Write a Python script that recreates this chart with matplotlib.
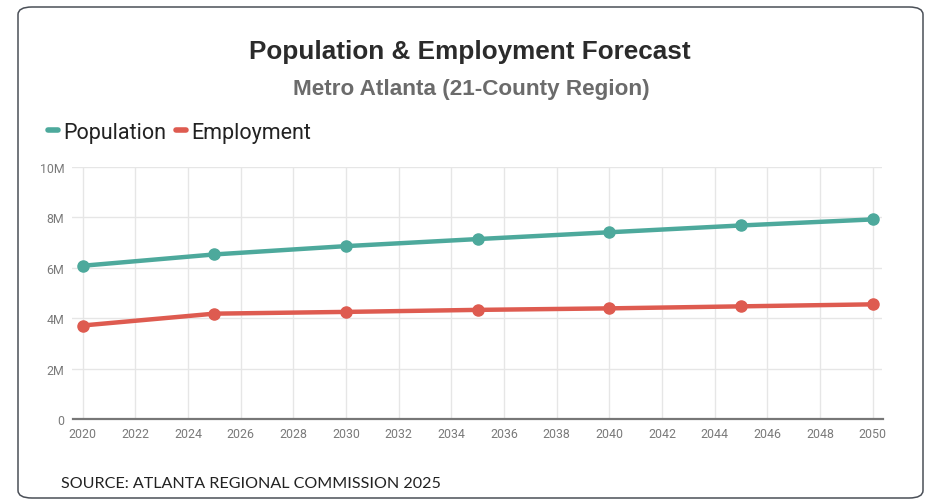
import matplotlib.pyplot as plt
from matplotlib.patches import FancyBboxPatch
from matplotlib.ticker import FuncFormatter

years = [2020, 2025, 2030, 2035, 2040, 2045, 2050]
population = [6.08, 6.53, 6.86, 7.14, 7.41, 7.68, 7.92]  # millions
employment = [3.71, 4.18, 4.25, 4.33, 4.39, 4.47, 4.55]  # millions

teal = '#4DA99C'
red = '#DE5B50'

fig = plt.figure(figsize=(9.28, 5.02), dpi=100, facecolor='white')

# rounded card border
card = FancyBboxPatch((18 / 928, 3 / 502), 905 / 928, 491 / 502,
                      boxstyle='round,pad=0,rounding_size=0.015',
                      transform=fig.transFigure, facecolor='none',
                      edgecolor='#4a4f57', linewidth=1.1, zorder=5)
fig.patches.append(card)

ax = fig.add_axes([72.5 / 928, 82 / 502, 810 / 928, 252 / 502])
ax.set_facecolor('none')

ax.plot(years, population, '-o', color=teal, lw=3.2, markersize=8, label='Population', zorder=3)
ax.plot(years, employment, '-o', color=red, lw=3.2, markersize=8, label='Employment', zorder=3)

ax.set_xlim(2019.62, 2050.37)
ax.set_ylim(0, 10)
ax.set_xticks(range(2020, 2051, 2))
ax.set_yticks(range(0, 11, 2))
ax.yaxis.set_major_formatter(FuncFormatter(lambda v, p: '0' if v == 0 else '%dM' % v))

ax.grid(True, color='#e6e6e6', lw=1)
ax.set_axisbelow(True)
for s in ['top', 'right', 'left']:
  ax.spines[s].set_visible(False)
ax.spines['bottom'].set_color('#777777')
ax.spines['bottom'].set_linewidth(1.6)
ax.tick_params(axis='both', length=0, labelsize=8.9, labelcolor='#7a7a7a', pad=6)
for item in ax.get_xticklabels() + ax.get_yticklabels():
  item.set_fontfamily('Roboto')

fig.text(470 / 928, 1 - 52 / 502, 'Population & Employment Forecast', ha='center', va='center',
         fontsize=18.8, fontweight='bold', color='#2b2b2b', family='Liberation Sans')
fig.text(471 / 928, 1 - 89 / 502, 'Metro Atlanta (21-County Region)', ha='center', va='center',
         fontsize=16.2, fontweight='bold', color='#6b6b6b', family='Liberation Sans')

leg = fig.legend(loc='center left', bbox_to_anchor=(29 / 928, 1 - 133 / 502), ncol=2,
                 frameon=False, handlelength=0.45, handletextpad=0.25, columnspacing=0.45,
                 prop={'family': 'Roboto', 'size': 15.5}, markerscale=0, labelcolor='#222222')
for h in leg.legend_handles:
  h.set_marker('')
  h.set_linewidth(4)
  h.set_solid_capstyle('round')

fig.text(61 / 928, 1 - 484 / 502, 'SOURCE: ATLANTA REGIONAL COMMISSION 2025', ha='left', va='center',
         fontsize=11.6, color='#222222', family='Lato')

plt.savefig('out.png', dpi=100)
